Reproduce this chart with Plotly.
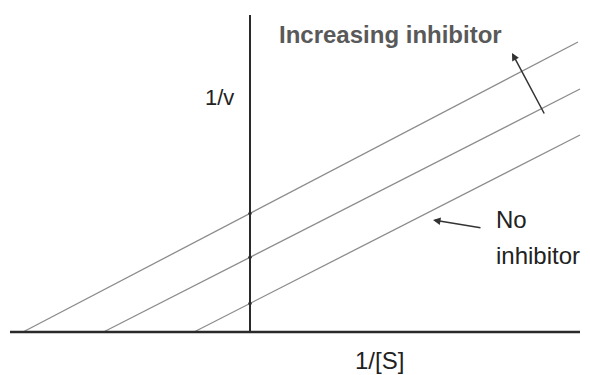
import plotly.graph_objects as go

# Lineweaver-Burk plot, uncompetitive inhibition (parallel lines)
series_names = ["No inhibitor", "Inhibitor (low)", "Inhibitor (high)"]
x_intercepts = [-0.56, -1.465, -2.27]     # 1/[S] where 1/v = 0
y_intercepts = [0.286, 0.747, 1.186]      # 1/v at 1/[S] = 0
x_end = [3.30, 3.30, 3.28]
y_end = [1.97, 2.43, 2.90]

x_label = "1/[S]"
y_label = "1/v"

FONT = "Arial, Liberation Sans, sans-serif"

fig = go.Figure()

for name, xi, yi, xe, ye in zip(series_names, x_intercepts, y_intercepts, x_end, y_end):
    fig.add_trace(go.Scatter(
        x=[xi, 0, xe], y=[0, yi, ye], mode="lines", name=name,
        line=dict(color="#8c8c8c", width=1.3), showlegend=False, hoverinfo="skip"))

fig.add_trace(go.Scatter(
    x=[0] * len(y_intercepts), y=y_intercepts, mode="markers",
    marker=dict(color="#333", size=3.5), showlegend=False, hoverinfo="skip"))

# axes lines
fig.add_shape(type="line", x0=-2.4, x1=3.3, y0=0, y1=0,
              line=dict(color="#2a2a2a", width=2.5))
fig.add_shape(type="line", x0=0, x1=0, y0=0, y1=3.17,
              line=dict(color="#2a2a2a", width=2))

fig.add_annotation(x=-0.31, y=2.35, text=y_label, showarrow=False,
                   font=dict(family=FONT, size=22, color="#222"))
fig.add_annotation(x=1.29, y=-0.28, text=x_label, showarrow=False,
                   font=dict(family=FONT, size=24, color="#222"))
fig.add_annotation(x=1.40, y=2.98, text="<b>Increasing inhibitor</b>", showarrow=False,
                   font=dict(family=FONT, size=24, color="#595959"))
fig.add_annotation(x=2.44, y=1.13, text="No", showarrow=False, xanchor="left",
                   font=dict(family=FONT, size=24, color="#222"))
fig.add_annotation(x=2.44, y=0.77, text="inhibitor", showarrow=False, xanchor="left",
                   font=dict(family=FONT, size=24, color="#222"))

# arrows
fig.add_annotation(x=1.83, y=1.12, ax=2.32, ay=1.04, axref="x", ayref="y",
                   xref="x", yref="y", text="", showarrow=True,
                   arrowhead=2, arrowsize=1, arrowwidth=1.5, arrowcolor="#333")
fig.add_annotation(x=2.62, y=2.79, ax=2.95, ay=2.17, axref="x", ayref="y",
                   xref="x", yref="y", text="", showarrow=True,
                   arrowhead=2, arrowsize=1, arrowwidth=1.5, arrowcolor="#333")

fig.update_xaxes(range=[-2.42, 3.48], visible=False)
fig.update_yaxes(range=[-0.51, 3.24], visible=False)
fig.update_layout(width=590, height=375, margin=dict(l=0, r=0, t=0, b=0),
                  plot_bgcolor="white", paper_bgcolor="white")

fig.write_html("out.html")
